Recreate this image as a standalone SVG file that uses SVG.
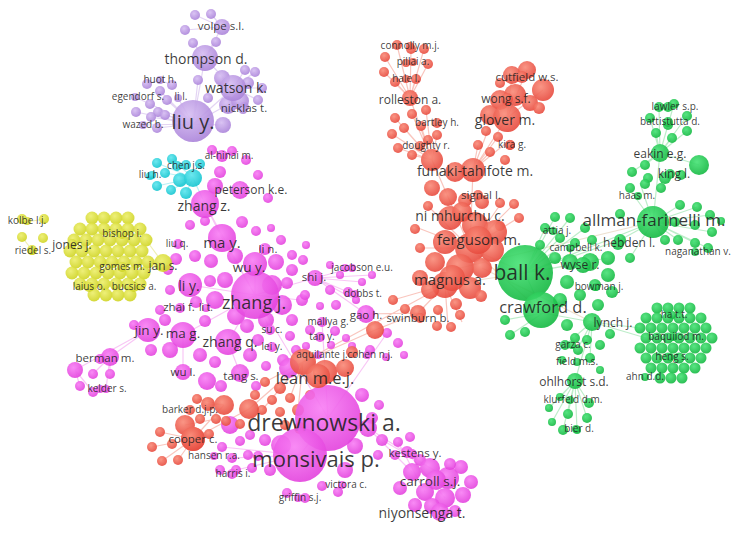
<svg xmlns="http://www.w3.org/2000/svg" width="738" height="537" viewBox="0 0 738 537">
<style>
text{font-family:"Open Sans","DejaVu Sans",sans-serif;fill:#1e1e1e;fill-opacity:.88;text-anchor:middle}
.f10{font-size:10px}.f11{font-size:11.5px}.f12{font-size:12px}.f13{font-size:13.5px}.f14{font-size:14px}.f15{font-size:15px}.f16{font-size:16.5px}.f17{font-size:17px}.f18{font-size:18px}.f20{font-size:20px}.f21{font-size:21px}.f22{font-size:22px}.f23{font-size:23px}
circle{fill-opacity:.9}
.p{fill:url(#gp)}.k{fill:url(#gk)}.r{fill:url(#gr)}.g{fill:url(#gg)}.y{fill:url(#gy)}.c{fill:url(#gc)}
.lp{stroke:#dcc9f0}.lk{stroke:#f6b8f3}.lr{stroke:#f7b6ad}.lg{stroke:#ade8bb}.ly{stroke:#eaeba0}.lc{stroke:#a6eef2}.lx{stroke:#e8d9c4}
#links path{fill:none;stroke-width:1.2;stroke-opacity:.8}
</style>
<defs>
<radialGradient id="gp" cx=".4" cy=".35" r=".7"><stop offset="0" stop-color="#d6bdf2"/><stop offset="1" stop-color="#a880d8"/></radialGradient>
<radialGradient id="gk" cx=".4" cy=".35" r=".7"><stop offset="0" stop-color="#f87ef4"/><stop offset="1" stop-color="#e23fdc"/></radialGradient>
<radialGradient id="gr" cx=".4" cy=".35" r=".7"><stop offset="0" stop-color="#f98a78"/><stop offset="1" stop-color="#e6463a"/></radialGradient>
<radialGradient id="gg" cx=".4" cy=".35" r=".7"><stop offset="0" stop-color="#46e275"/><stop offset="1" stop-color="#12b63f"/></radialGradient>
<radialGradient id="gy" cx=".4" cy=".35" r=".7"><stop offset="0" stop-color="#ecee6a"/><stop offset="1" stop-color="#cdd21e"/></radialGradient>
<radialGradient id="gc" cx=".4" cy=".35" r=".7"><stop offset="0" stop-color="#5ee6ee"/><stop offset="1" stop-color="#0fc2cd"/></radialGradient>
</defs>
<rect width="738" height="537" fill="#fff"/>

<g id="links">
<path class="lp" d="M193 124L160 91M193 124L150 104M193 124L167 100M193 124L158 112M193 124L136 112M193 124L151 117M193 124L165 115M193 124L157 128M193 124L178 98M193 124L143 125M193 124L198 80M193 124L205 58M193 124L233 88M193 124L223 125M193 124L227 105M205 58L193 43M205 58L216 42M205 58L222 27M205 58L233 88M222 27L195 15M222 27L211 14M222 27L185 30M233 88L245 70M233 88L255 72M233 88L262 88M233 88L258 100M233 88L244 107M233 88L222 78M160 80L147 84M160 80L172 85M135 97L150 104"/>
<path class="lc" d="M193 178L157 163M193 178L172 159M193 178L165 173M193 178L157 186M193 178L171 190M193 178L186 193M193 178L205 204"/>
<path class="ly" d="M163 263L146 240M163 263L148 262M163 263L144 273M27 222L44 219M22 237L32 250"/>
<path class="lk" d="M255 295L222 238M255 295L190 285M255 295L228 342M255 295L255 264M255 295L205 204M255 295L315 278M255 295L183 335M255 295L270 330M255 295L300 300M222 238L205 204M148 330L110 357M148 330L75 370M110 357L93 374M110 357L110 374M75 370L80 386M75 370L93 392M110 357L106 389M328 418L300 455M328 418L368 428M368 428L412 472M368 428L430 468M382 440L448 478M398 442L425 492M407 452L445 498M315 278L352 268M315 278L362 282M315 278L372 275M315 278L348 292M315 278L356 300M328 418L255 295M300 455L232 458M300 455L236 470M300 455L222 447M366 314L315 278M228 342L240 373M183 335L183 372M328 418L322 322M328 418L387 333"/>
<path class="lr" d="M410 98L385 57M410 98L397 45M410 98L411 49M410 98L424 49M410 98L428 64M410 98L384 72M410 98L395 82M410 98L416 79M432 160L410 98M432 160L395 118M432 160L412 114M432 160L426 110M432 160L421 126M432 160L404 128M432 160L437 135M432 160L392 134M432 160L398 148M432 160L412 155M473 170L507 118M473 170L488 130M473 170L498 137M473 170L492 150M473 170L478 145M473 170L510 140M507 118L512 75M507 118L527 70M507 118L543 90M432 160L470 248M473 170L470 248M470 248L413 226M470 248L418 248M470 248L428 206M470 248L500 205M470 248L513 205M470 248L518 218M445 285L393 300M445 285L418 313M445 285L448 326M445 285L462 322M418 313L375 330M418 313L366 314M303 362L375 330M303 362L265 382M303 362L290 398M303 362L262 410M303 362L298 410M303 362L249 409M193 439L224 405M193 439L249 409M193 439L160 432M193 439L152 447M193 439L162 461M193 439L178 460M224 405L197 399M224 405L208 404M185 425L216 419M303 362L445 285"/>
<path class="lx" d="M470 248L525 273M445 285L525 273M470 248L543 313M482 268L592 322M460 268L653 222"/>
<path class="lg" d="M525 273L545 228M525 273L555 217M525 273L570 218M525 273L585 228M525 273L540 245M525 273L560 238M525 273L590 262M525 273L608 258M525 273L653 222M525 273L543 313M543 313L592 322M592 322L575 381M592 322L565 345M592 322L578 348M592 322L590 358M592 322L640 328M592 322L646 338M575 381L560 397M575 381L589 403M575 381L549 408M575 381L568 414M575 381L587 418M575 381L552 422M575 381L563 430M575 381L577 430M653 222L680 205M653 222L697 207M653 222L710 215M653 222L675 222M653 222L695 225M653 222L712 232M653 222L678 240M653 222L695 243M653 222L708 248M653 222L665 240M653 222L630 190M653 222L640 183M653 222L620 240M653 222L630 258M660 153L653 222M660 153L699 165M660 153L659 107M660 153L674 104M660 153L687 116M660 153L650 118M660 153L668 125M660 153L656 133M660 153L672 138M660 153L687 131M660 153L645 165M660 153L632 172M543 313L505 320M543 313L510 335M525 273L620 240"/>
</g>

<g id="cluster-purple">
<circle class="p" cx="195" cy="15" r="5"/><circle class="p" cx="211" cy="14" r="5"/><circle class="p" cx="185" cy="30" r="5"/><circle class="p" cx="193" cy="43" r="5"/><circle class="p" cx="216" cy="42" r="5"/>
<circle class="p" cx="147" cy="84" r="5"/><circle class="p" cx="172" cy="85" r="5"/><circle class="p" cx="160" cy="91" r="5"/><circle class="p" cx="150" cy="104" r="5"/><circle class="p" cx="167" cy="100" r="5"/><circle class="p" cx="158" cy="112" r="5"/><circle class="p" cx="136" cy="112" r="5"/><circle class="p" cx="151" cy="117" r="5"/><circle class="p" cx="165" cy="115" r="5"/><circle class="p" cx="157" cy="128" r="5"/>
<circle class="p" cx="198" cy="80" r="5"/><circle class="p" cx="208" cy="98" r="5"/><circle class="p" cx="223" cy="125" r="8"/>
<circle class="p" cx="245" cy="70" r="5"/><circle class="p" cx="255" cy="72" r="5"/><circle class="p" cx="248" cy="83" r="6"/><circle class="p" cx="262" cy="88" r="5"/><circle class="p" cx="258" cy="100" r="5"/><circle class="p" cx="244" cy="107" r="5"/><circle class="p" cx="222" cy="78" r="8"/><circle class="p" cx="228" cy="105" r="9"/><circle class="p" cx="240" cy="101" r="9"/>
</g>

<g id="cluster-cyan">
<circle class="c" cx="157" cy="163" r="5"/><circle class="c" cx="172" cy="159" r="5"/><circle class="c" cx="186" cy="165" r="5"/><circle class="c" cx="165" cy="173" r="5"/><circle class="c" cx="150" cy="176" r="4"/><circle class="c" cx="180" cy="180" r="7"/><circle class="c" cx="193" cy="178" r="9"/><circle class="c" cx="157" cy="186" r="5"/><circle class="c" cx="171" cy="190" r="5"/><circle class="c" cx="186" cy="193" r="6"/><circle class="c" cx="200" cy="164" r="5"/>
</g>

<g id="cluster-yellow">
<circle class="y" cx="22" cy="219" r="5"/><circle class="y" cx="44" cy="219" r="5"/><circle class="y" cx="22" cy="237" r="5"/><circle class="y" cx="43" cy="238" r="5"/><circle class="y" cx="32" cy="250" r="5"/>
<circle class="y" cx="92" cy="218" r="6.5"/><circle class="y" cx="104" cy="218" r="6.5"/><circle class="y" cx="116" cy="218" r="6.5"/><circle class="y" cx="128" cy="218" r="6.5"/>
<circle class="y" cx="80" cy="229" r="6.5"/><circle class="y" cx="92" cy="229" r="6.5"/><circle class="y" cx="104" cy="229" r="6.5"/><circle class="y" cx="116" cy="229" r="6.5"/><circle class="y" cx="128" cy="229" r="6.5"/><circle class="y" cx="140" cy="229" r="6.5"/>
<circle class="y" cx="74" cy="240" r="6.5"/><circle class="y" cx="86" cy="240" r="6.5"/><circle class="y" cx="98" cy="240" r="6.5"/><circle class="y" cx="110" cy="240" r="6.5"/><circle class="y" cx="122" cy="240" r="6.5"/><circle class="y" cx="134" cy="240" r="6.5"/><circle class="y" cx="146" cy="240" r="6.5"/>
<circle class="y" cx="70" cy="251" r="6.5"/><circle class="y" cx="82" cy="251" r="6.5"/><circle class="y" cx="94" cy="251" r="6.5"/><circle class="y" cx="106" cy="251" r="6.5"/><circle class="y" cx="118" cy="251" r="6.5"/><circle class="y" cx="130" cy="251" r="6.5"/><circle class="y" cx="142" cy="251" r="6.5"/>
<circle class="y" cx="76" cy="262" r="6.5"/><circle class="y" cx="88" cy="262" r="6.5"/><circle class="y" cx="100" cy="262" r="6.5"/><circle class="y" cx="112" cy="262" r="6.5"/><circle class="y" cx="124" cy="262" r="6.5"/><circle class="y" cx="136" cy="262" r="6.5"/><circle class="y" cx="148" cy="262" r="6.5"/>
<circle class="y" cx="72" cy="273" r="6.5"/><circle class="y" cx="84" cy="273" r="6.5"/><circle class="y" cx="96" cy="273" r="6.5"/><circle class="y" cx="108" cy="273" r="6.5"/><circle class="y" cx="120" cy="273" r="6.5"/><circle class="y" cx="132" cy="273" r="6.5"/><circle class="y" cx="144" cy="273" r="6.5"/>
<circle class="y" cx="80" cy="284" r="6.5"/><circle class="y" cx="92" cy="284" r="6.5"/><circle class="y" cx="104" cy="284" r="6.5"/><circle class="y" cx="116" cy="284" r="6.5"/><circle class="y" cx="128" cy="284" r="6.5"/><circle class="y" cx="140" cy="284" r="6.5"/>
<circle class="y" cx="94" cy="295" r="6.5"/><circle class="y" cx="106" cy="295" r="6.5"/><circle class="y" cx="118" cy="295" r="6.5"/><circle class="y" cx="130" cy="295" r="6.5"/>
</g>

<g id="cluster-pink">
<circle class="k" cx="212" cy="150" r="5"/><circle class="k" cx="232" cy="151" r="5"/><circle class="k" cx="246" cy="160" r="5"/><circle class="k" cx="220" cy="172" r="6"/><circle class="k" cx="258" cy="175" r="5"/><circle class="k" cx="268" cy="198" r="5"/><circle class="k" cx="215" cy="186" r="8"/>
<circle class="k" cx="190" cy="225" r="5"/><circle class="k" cx="205" cy="221" r="5"/><circle class="k" cx="242" cy="222" r="6"/><circle class="k" cx="256" cy="231" r="5"/><circle class="k" cx="271" cy="228" r="4"/><circle class="k" cx="195" cy="256" r="6"/><circle class="k" cx="211" cy="261" r="7"/><circle class="k" cx="235" cy="256" r="8"/><circle class="k" cx="281" cy="240" r="5"/><circle class="k" cx="292" cy="255" r="5"/><circle class="k" cx="276" cy="262" r="8"/><circle class="k" cx="292" cy="270" r="6"/><circle class="k" cx="303" cy="260" r="5"/><circle class="k" cx="306" cy="245" r="4"/><circle class="k" cx="287" cy="283" r="6"/>
<circle class="k" cx="225" cy="280" r="8"/><circle class="k" cx="215" cy="300" r="9"/><circle class="k" cx="236" cy="316" r="9"/><circle class="k" cx="272" cy="285" r="10"/><circle class="k" cx="282" cy="305" r="10"/><circle class="k" cx="266" cy="320" r="8"/><circle class="k" cx="247" cy="326" r="7"/><circle class="k" cx="292" cy="320" r="6"/><circle class="k" cx="302" cy="300" r="6"/><circle class="k" cx="210" cy="281" r="6"/><circle class="k" cx="205" cy="321" r="6"/><circle class="k" cx="196" cy="302" r="6"/><circle class="k" cx="170" cy="290" r="5"/><circle class="k" cx="168" cy="270" r="5"/><circle class="k" cx="176" cy="259" r="6"/>
<circle class="k" cx="165" cy="320" r="6"/><circle class="k" cx="160" cy="310" r="5"/><circle class="k" cx="134" cy="325" r="5"/><circle class="k" cx="170" cy="350" r="8"/><circle class="k" cx="151" cy="350" r="6"/><circle class="k" cx="200" cy="355" r="7"/><circle class="k" cx="215" cy="362" r="6"/><circle class="k" cx="250" cy="355" r="7"/><circle class="k" cx="258" cy="340" r="6"/><circle class="k" cx="290" cy="336" r="5"/><circle class="k" cx="296" cy="350" r="5"/><circle class="k" cx="283" cy="360" r="6"/><circle class="k" cx="266" cy="366" r="5"/><circle class="k" cx="221" cy="386" r="6"/><circle class="k" cx="207" cy="381" r="9"/><circle class="k" cx="256" cy="386" r="5"/>
<circle class="k" cx="305" cy="295" r="5"/><circle class="k" cx="330" cy="290" r="5"/><circle class="k" cx="336" cy="305" r="5"/><circle class="k" cx="320" cy="306" r="4"/><circle class="k" cx="340" cy="275" r="4"/><circle class="k" cx="352" cy="268" r="4"/><circle class="k" cx="362" cy="282" r="4"/><circle class="k" cx="348" cy="292" r="5"/><circle class="k" cx="372" cy="275" r="4"/><circle class="k" cx="356" cy="300" r="4"/><circle class="k" cx="330" cy="265" r="4"/>
<circle class="k" cx="310" cy="330" r="5"/><circle class="k" cx="335" cy="331" r="5"/><circle class="k" cx="331" cy="345" r="4"/><circle class="k" cx="346" cy="338" r="4"/><circle class="k" cx="306" cy="346" r="4"/>
<circle class="k" cx="387" cy="333" r="5"/><circle class="k" cx="398" cy="343" r="5"/><circle class="k" cx="352" cy="346" r="4"/><circle class="k" cx="370" cy="350" r="5"/><circle class="k" cx="386" cy="357" r="4"/><circle class="k" cx="404" cy="355" r="4"/>
<circle class="k" cx="289" cy="368" r="10"/><circle class="k" cx="362" cy="395" r="7"/><circle class="k" cx="372" cy="418" r="6"/><circle class="k" cx="379" cy="405" r="5"/><circle class="k" cx="355" cy="446" r="8"/><circle class="k" cx="345" cy="470" r="8"/><circle class="k" cx="322" cy="486" r="5"/><circle class="k" cx="338" cy="492" r="5"/><circle class="k" cx="287" cy="493" r="5"/><circle class="k" cx="305" cy="498" r="5"/><circle class="k" cx="270" cy="470" r="6"/><circle class="k" cx="281" cy="445" r="10"/><circle class="k" cx="265" cy="440" r="6"/><circle class="k" cx="258" cy="456" r="5"/>
<circle class="k" cx="368" cy="428" r="9"/><circle class="k" cx="382" cy="440" r="6"/><circle class="k" cx="398" cy="442" r="5"/><circle class="k" cx="410" cy="437" r="5"/><circle class="k" cx="395" cy="455" r="5"/><circle class="k" cx="407" cy="452" r="6"/><circle class="k" cx="420" cy="460" r="6"/><circle class="k" cx="378" cy="455" r="5"/>
<circle class="k" cx="412" cy="472" r="9"/><circle class="k" cx="430" cy="468" r="10"/><circle class="k" cx="448" cy="478" r="11"/><circle class="k" cx="461" cy="467" r="7"/><circle class="k" cx="400" cy="488" r="7"/><circle class="k" cx="425" cy="492" r="9"/><circle class="k" cx="445" cy="498" r="10"/><circle class="k" cx="463" cy="495" r="8"/><circle class="k" cx="415" cy="505" r="7"/><circle class="k" cx="432" cy="506" r="8"/><circle class="k" cx="455" cy="511" r="6"/><circle class="k" cx="471" cy="482" r="7"/><circle class="k" cx="450" cy="464" r="6"/>
<circle class="k" cx="222" cy="447" r="5"/><circle class="k" cx="240" cy="441" r="5"/><circle class="k" cx="232" cy="458" r="5"/><circle class="k" cx="248" cy="455" r="5"/><circle class="k" cx="220" cy="470" r="5"/><circle class="k" cx="236" cy="470" r="5"/><circle class="k" cx="252" cy="468" r="5"/><circle class="k" cx="230" cy="425" r="9"/><circle class="k" cx="250" cy="435" r="5"/>
<circle class="k" cx="75" cy="370" r="8"/><circle class="k" cx="110" cy="357" r="9"/><circle class="k" cx="93" cy="374" r="5"/><circle class="k" cx="110" cy="374" r="5"/><circle class="k" cx="80" cy="386" r="5"/><circle class="k" cx="93" cy="392" r="5"/><circle class="k" cx="106" cy="389" r="4"/>
</g>

<g id="cluster-red">
<circle class="r" cx="385" cy="57" r="5"/><circle class="r" cx="397" cy="45" r="5"/><circle class="r" cx="411" cy="49" r="5"/><circle class="r" cx="424" cy="49" r="5"/><circle class="r" cx="428" cy="64" r="5"/><circle class="r" cx="384" cy="72" r="5"/><circle class="r" cx="395" cy="82" r="5"/><circle class="r" cx="416" cy="79" r="5"/><circle class="r" cx="406" cy="63" r="4"/>
<circle class="r" cx="395" cy="118" r="5"/><circle class="r" cx="412" cy="114" r="5"/><circle class="r" cx="426" cy="110" r="5"/><circle class="r" cx="421" cy="126" r="5"/><circle class="r" cx="404" cy="128" r="5"/><circle class="r" cx="437" cy="135" r="5"/><circle class="r" cx="392" cy="134" r="5"/><circle class="r" cx="398" cy="148" r="5"/><circle class="r" cx="412" cy="155" r="5"/><circle class="r" cx="428" cy="140" r="5"/>
<circle class="r" cx="500" cy="83" r="5"/><circle class="r" cx="512" cy="75" r="9"/><circle class="r" cx="527" cy="70" r="9"/><circle class="r" cx="543" cy="90" r="11"/><circle class="r" cx="515" cy="95" r="11"/><circle class="r" cx="500" cy="100" r="10"/><circle class="r" cx="530" cy="103" r="8"/><circle class="r" cx="539" cy="108" r="6"/><circle class="r" cx="490" cy="115" r="10"/>
<circle class="r" cx="486" cy="131" r="5"/><circle class="r" cx="498" cy="137" r="5"/><circle class="r" cx="490" cy="152" r="5"/><circle class="r" cx="478" cy="145" r="5"/><circle class="r" cx="510" cy="145" r="5"/><circle class="r" cx="505" cy="160" r="5"/>
<circle class="r" cx="432" cy="160" r="11"/><circle class="r" cx="473" cy="170" r="12"/><circle class="r" cx="432" cy="188" r="8"/><circle class="r" cx="448" cy="197" r="9"/><circle class="r" cx="465" cy="200" r="7"/><circle class="r" cx="482" cy="202" r="7"/><circle class="r" cx="500" cy="203" r="5"/><circle class="r" cx="514" cy="204" r="5"/><circle class="r" cx="519" cy="218" r="5"/><circle class="r" cx="500" cy="226" r="5"/>
<circle class="r" cx="450" cy="218" r="12"/><circle class="r" cx="475" cy="225" r="13"/><circle class="r" cx="495" cy="232" r="12"/><circle class="r" cx="445" cy="242" r="12"/><circle class="r" cx="470" cy="248" r="15"/><circle class="r" cx="492" cy="250" r="12"/><circle class="r" cx="435" cy="262" r="10"/><circle class="r" cx="460" cy="268" r="14"/><circle class="r" cx="482" cy="268" r="10"/><circle class="r" cx="445" cy="285" r="13"/><circle class="r" cx="470" cy="288" r="11"/><circle class="r" cx="430" cy="290" r="9"/><circle class="r" cx="420" cy="278" r="8"/><circle class="r" cx="456" cy="304" r="6"/><circle class="r" cx="481" cy="296" r="6"/>
<circle class="r" cx="415" cy="229" r="5"/><circle class="r" cx="420" cy="248" r="5"/><circle class="r" cx="428" cy="206" r="5"/>
<circle class="r" cx="393" cy="300" r="5"/><circle class="r" cx="405" cy="309" r="5"/><circle class="r" cx="418" cy="313" r="8"/><circle class="r" cx="438" cy="310" r="5"/><circle class="r" cx="437" cy="326" r="5"/><circle class="r" cx="451" cy="327" r="5"/><circle class="r" cx="460" cy="315" r="5"/><circle class="r" cx="375" cy="330" r="9"/>
<circle class="r" cx="303" cy="362" r="13"/><circle class="r" cx="325" cy="372" r="12"/><circle class="r" cx="345" cy="368" r="9"/><circle class="r" cx="352" cy="352" r="6"/>
<circle class="r" cx="265" cy="382" r="5"/><circle class="r" cx="280" cy="388" r="6"/><circle class="r" cx="272" cy="400" r="5"/><circle class="r" cx="290" cy="398" r="5"/><circle class="r" cx="262" cy="410" r="5"/><circle class="r" cx="280" cy="412" r="5"/><circle class="r" cx="298" cy="410" r="6"/><circle class="r" cx="285" cy="425" r="5"/><circle class="r" cx="300" cy="428" r="6"/><circle class="r" cx="255" cy="395" r="5"/><circle class="r" cx="310" cy="395" r="5"/>
<circle class="r" cx="197" cy="399" r="5"/><circle class="r" cx="208" cy="404" r="7"/><circle class="r" cx="224" cy="405" r="10"/><circle class="r" cx="249" cy="409" r="10"/><circle class="r" cx="185" cy="425" r="10"/><circle class="r" cx="200" cy="419" r="5"/><circle class="r" cx="216" cy="419" r="5"/><circle class="r" cx="193" cy="439" r="12"/><circle class="r" cx="209" cy="434" r="5"/><circle class="r" cx="160" cy="432" r="5"/><circle class="r" cx="172" cy="444" r="5"/><circle class="r" cx="152" cy="447" r="5"/><circle class="r" cx="162" cy="461" r="5"/><circle class="r" cx="178" cy="460" r="5"/><circle class="r" cx="226" cy="421" r="5"/><circle class="r" cx="240" cy="424" r="5"/>
</g>

<g id="cluster-green">
<circle class="g" cx="659" cy="107" r="5"/><circle class="g" cx="674" cy="104" r="5"/><circle class="g" cx="687" cy="116" r="5"/><circle class="g" cx="650" cy="118" r="5"/><circle class="g" cx="668" cy="125" r="5"/><circle class="g" cx="656" cy="133" r="5"/><circle class="g" cx="672" cy="138" r="5"/><circle class="g" cx="687" cy="131" r="5"/>
<circle class="g" cx="699" cy="165" r="10"/><circle class="g" cx="645" cy="165" r="5"/><circle class="g" cx="632" cy="172" r="5"/><circle class="g" cx="648" cy="178" r="5"/><circle class="g" cx="665" cy="178" r="6"/><circle class="g" cx="681" cy="175" r="5"/>
<circle class="g" cx="630" cy="188" r="5"/><circle class="g" cx="645" cy="184" r="5"/><circle class="g" cx="661" cy="188" r="5"/><circle class="g" cx="620" cy="214" r="5"/><circle class="g" cx="680" cy="205" r="5"/><circle class="g" cx="697" cy="207" r="5"/><circle class="g" cx="710" cy="215" r="5"/><circle class="g" cx="675" cy="222" r="5"/><circle class="g" cx="695" cy="225" r="5"/><circle class="g" cx="712" cy="232" r="5"/><circle class="g" cx="678" cy="240" r="5"/><circle class="g" cx="695" cy="243" r="5"/><circle class="g" cx="708" cy="248" r="5"/><circle class="g" cx="665" cy="240" r="5"/><circle class="g" cx="721" cy="221" r="4"/>
<circle class="g" cx="620" cy="240" r="6"/><circle class="g" cx="630" cy="258" r="5"/>
<circle class="g" cx="545" cy="228" r="5"/><circle class="g" cx="555" cy="217" r="5"/><circle class="g" cx="570" cy="218" r="5"/><circle class="g" cx="585" cy="228" r="5"/><circle class="g" cx="592" cy="240" r="5"/><circle class="g" cx="540" cy="245" r="5"/><circle class="g" cx="560" cy="238" r="5"/><circle class="g" cx="575" cy="243" r="5"/>
<circle class="g" cx="555" cy="258" r="6"/><circle class="g" cx="570" cy="262" r="8"/><circle class="g" cx="590" cy="262" r="9"/><circle class="g" cx="608" cy="258" r="7"/><circle class="g" cx="608" cy="275" r="7"/><circle class="g" cx="595" cy="285" r="6"/><circle class="g" cx="612" cy="292" r="6"/><circle class="g" cx="567" cy="282" r="7"/><circle class="g" cx="580" cy="295" r="6"/><circle class="g" cx="560" cy="300" r="7"/><circle class="g" cx="598" cy="305" r="6"/>
<circle class="g" cx="505" cy="320" r="5"/><circle class="g" cx="510" cy="335" r="5"/><circle class="g" cx="525" cy="332" r="5"/><circle class="g" cx="567" cy="325" r="6"/><circle class="g" cx="575" cy="338" r="5"/><circle class="g" cx="600" cy="345" r="5"/><circle class="g" cx="587" cy="340" r="5"/><circle class="g" cx="610" cy="334" r="5"/>
<circle class="g" cx="565" cy="345" r="5"/><circle class="g" cx="578" cy="350" r="5"/><circle class="g" cx="562" cy="360" r="4"/><circle class="g" cx="590" cy="358" r="5"/><circle class="g" cx="600" cy="370" r="4"/>
<circle class="g" cx="560" cy="397" r="4"/><circle class="g" cx="589" cy="403" r="5"/><circle class="g" cx="549" cy="408" r="4"/><circle class="g" cx="568" cy="414" r="5"/><circle class="g" cx="587" cy="418" r="5"/><circle class="g" cx="552" cy="422" r="4"/><circle class="g" cx="563" cy="430" r="5"/><circle class="g" cx="577" cy="430" r="4"/>
<circle class="g" cx="657" cy="308" r="5.5"/><circle class="g" cx="668" cy="308" r="5.5"/><circle class="g" cx="679" cy="308" r="5.5"/><circle class="g" cx="690" cy="308" r="5.5"/>
<circle class="g" cx="646" cy="318" r="5.5"/><circle class="g" cx="657" cy="318" r="5.5"/><circle class="g" cx="668" cy="318" r="5.5"/><circle class="g" cx="679" cy="318" r="5.5"/><circle class="g" cx="690" cy="318" r="5.5"/><circle class="g" cx="701" cy="318" r="5.5"/>
<circle class="g" cx="640" cy="328" r="5.5"/><circle class="g" cx="651" cy="328" r="5.5"/><circle class="g" cx="662" cy="328" r="5.5"/><circle class="g" cx="673" cy="328" r="5.5"/><circle class="g" cx="684" cy="328" r="5.5"/><circle class="g" cx="695" cy="328" r="5.5"/><circle class="g" cx="706" cy="328" r="5.5"/>
<circle class="g" cx="646" cy="338" r="5.5"/><circle class="g" cx="657" cy="338" r="5.5"/><circle class="g" cx="668" cy="338" r="5.5"/><circle class="g" cx="679" cy="338" r="5.5"/><circle class="g" cx="690" cy="338" r="5.5"/><circle class="g" cx="701" cy="338" r="5.5"/><circle class="g" cx="712" cy="338" r="5.5"/>
<circle class="g" cx="640" cy="348" r="5.5"/><circle class="g" cx="651" cy="348" r="5.5"/><circle class="g" cx="662" cy="348" r="5.5"/><circle class="g" cx="673" cy="348" r="5.5"/><circle class="g" cx="684" cy="348" r="5.5"/><circle class="g" cx="695" cy="348" r="5.5"/><circle class="g" cx="706" cy="348" r="5.5"/>
<circle class="g" cx="646" cy="358" r="5.5"/><circle class="g" cx="657" cy="358" r="5.5"/><circle class="g" cx="668" cy="358" r="5.5"/><circle class="g" cx="679" cy="358" r="5.5"/><circle class="g" cx="690" cy="358" r="5.5"/><circle class="g" cx="701" cy="358" r="5.5"/>
<circle class="g" cx="651" cy="368" r="5.5"/><circle class="g" cx="662" cy="368" r="5.5"/><circle class="g" cx="673" cy="368" r="5.5"/><circle class="g" cx="684" cy="368" r="5.5"/><circle class="g" cx="695" cy="368" r="5.5"/>
<circle class="g" cx="660" cy="378" r="5.5"/><circle class="g" cx="671" cy="378" r="5.5"/><circle class="g" cx="682" cy="378" r="5.5"/>
</g>

<g id="n-drewnowski"><circle class="k" cx="328" cy="418" r="33"/><text class="f23" x="324" y="431">drewnowski a.</text></g>
<g id="n-ball"><circle class="g" cx="525" cy="273" r="28"/><text class="f21" x="522" y="280">ball k.</text></g>
<g id="n-monsivais"><circle class="k" cx="300" cy="455" r="27"/><text class="f22" x="316" y="467">monsivais p.</text></g>
<g id="n-zhang-j"><circle class="k" cx="255" cy="295" r="24"/><text class="f18" x="254" y="309">zhang j.</text></g>
<g id="n-liu-y"><circle class="p" cx="193" cy="121" r="21"/><text class="f20" x="193" y="129">liu y.</text></g>
<g id="n-crawford"><circle class="g" cx="541" cy="310" r="18"/><text class="f16" x="543" y="313">crawford d.</text></g>
<g id="n-allman"><circle class="g" cx="653" cy="222" r="16"/><text class="f17" x="654" y="226">allman-farinelli m.</text></g>
<g id="n-ferguson"><circle class="r" cx="478" cy="240" r="14"/><text class="f15" x="479" y="245">ferguson m.</text></g>
<g id="n-magnus"><circle class="r" cx="452" cy="278" r="13"/><text class="f15" x="450" y="285">magnus a.</text></g>
<g id="n-ma-y"><circle class="k" cx="222" cy="238" r="14"/><text class="f15" x="222" y="248">ma y.</text></g>
<g id="n-zhang-z"><circle class="k" cx="205" cy="204" r="14"/><text class="f14" x="204" y="211">zhang z.</text></g>
<g id="n-glover"><circle class="r" cx="507" cy="118" r="14"/><text class="f14" x="505" y="125">glover m.</text></g>
<g id="n-zhang-q"><circle class="k" cx="228" cy="342" r="13"/><text class="f14" x="230" y="347">zhang q.</text></g>
<g id="n-ma-g"><circle class="k" cx="183" cy="335" r="13"/><text class="f13" x="183" y="338">ma g.</text></g>
<g id="n-thompson"><circle class="p" cx="205" cy="58" r="13"/><text class="f14" x="206" y="64">thompson d.</text></g>
<g id="n-watson"><circle class="p" cx="233" cy="88" r="13"/><text class="f14" x="236" y="93">watson k.</text></g>
<g id="n-lean"><circle class="r" cx="318" cy="376" r="12"/><text class="f16" x="315" y="384">lean m.e.j.</text></g>
<g id="n-funaki"><circle class="r" cx="455" cy="172" r="10"/><text class="f14" x="475" y="176">funaki-tahifote m.</text></g>
<g id="n-ni-mhurchu"><circle class="r" cx="462" cy="212" r="10"/><text class="f14" x="460" y="221">ni mhurchu c.</text></g>
<g id="n-wu-y"><circle class="k" cx="255" cy="264" r="12"/><text class="f13" x="249" y="272">wu y.</text></g>
<g id="n-li-y"><circle class="k" cx="190" cy="285" r="12"/><text class="f14" x="189" y="291">li y.</text></g>
<g id="n-jin-y"><circle class="k" cx="148" cy="330" r="12"/><text class="f13" x="149" y="335">jin y.</text></g>
<g id="n-carroll"><circle class="k" cx="436" cy="480" r="10"/><text class="f13" x="430" y="486">carroll s.j.</text></g>
<g id="n-niyonsenga"><circle class="k" cx="440" cy="512" r="9"/><text class="f14" x="422" y="518">niyonsenga t.</text></g>
<g id="n-cooper"><circle class="r" cx="193" cy="439" r="12"/><text class="f11" x="193" y="443">cooper c.</text></g>
<g id="n-peterson"><circle class="k" cx="240" cy="190" r="9"/><text class="f12" x="251" y="194">peterson k.e.</text></g>
<g id="n-lynch"><circle class="g" cx="592" cy="322" r="9"/><text class="f12" x="613" y="327">lynch j.</text></g>
<g id="n-eakin"><circle class="g" cx="660" cy="153" r="9"/><text class="f12" x="660" y="158">eakin e.g.</text></g>
<g id="n-jan-s"><circle class="y" cx="163" cy="263" r="9"/><text class="f12" x="163" y="270">jan s.</text></g>
<g id="n-gao"><circle class="k" cx="366" cy="314" r="9"/><text class="f11" x="366" y="319">gao h.</text></g>
<g id="n-tang-s"><circle class="k" cx="240" cy="373" r="9"/><text class="f11" x="241" y="380">tang s.</text></g>
<g id="n-wu-l"><circle class="k" cx="183" cy="372" r="8"/><text class="f11" x="183" y="376">wu l.</text></g>
<g id="n-rolleston"><circle class="r" cx="410" cy="98" r="8"/><text class="f12" x="410" y="104">rolleston a.</text></g>
<g id="n-volpe"><circle class="p" cx="222" cy="27" r="8"/><text class="f11" x="221" y="30">volpe s.l.</text></g>
<g id="n-ohlhorst"><circle class="g" cx="575" cy="381" r="8"/><text class="f12" x="574" y="386">ohlhorst s.d.</text></g>
<g id="n-shi-j"><circle class="k" cx="315" cy="278" r="8"/><text class="f11" x="314" y="281">shi j.</text></g>
<g id="n-wyse"><circle class="g" cx="583" cy="265" r="8"/><text class="f12" x="580" y="269">wyse r.</text></g>
<g id="n-hebden"><circle class="g" cx="618" cy="244" r="6"/><text class="f12" x="629" y="247">hebden l.</text></g>
<g id="n-king"><circle class="g" cx="670" cy="174" r="5"/><text class="f12" x="674" y="178">king l.</text></g>
<g id="n-jones"><circle class="y" cx="72" cy="244" r="5"/><text class="f12" x="72" y="249">jones j.</text></g>
<g id="n-cutfield"><circle class="r" cx="522" cy="77" r="6"/><text class="f11" x="527" y="81">cutfield w.s.</text></g>
<g id="n-wong"><circle class="r" cx="507" cy="99" r="6"/><text class="f12" x="506" y="103">wong s.f.</text></g>
<g id="n-signal"><circle class="r" cx="478" cy="195" r="5"/><text class="f11" x="481" y="199">signal l.</text></g>
<g id="n-swinburn"><circle class="r" cx="420" cy="318" r="5"/><text class="f11" x="418" y="322">swinburn b.</text></g>
<g id="n-berman"><circle class="k" cx="100" cy="359" r="5"/><text class="f11" x="105" y="362">berman m.</text></g>
<g id="n-kestens"><circle class="k" cx="412" cy="454" r="5"/><text class="f11" x="415" y="457">kestens y.</text></g>
<g id="n-zhai"><circle class="k" cx="180" cy="308" r="5"/><text class="f11" x="179" y="311">zhai f.</text></g>
<g id="n-li-n"><circle class="k" cx="265" cy="249" r="6"/><text class="f11" x="268" y="253">li n.</text></g>
<g id="n-al-hinai"><circle class="k" cx="222" cy="156" r="6"/><text class="f10" x="229" y="159">al-hinai m.</text></g>
<g id="n-huot"><circle class="p" cx="160" cy="80" r="4"/><text class="f10" x="160" y="83">huot h.</text></g>
<g id="n-egendorf"><circle class="p" cx="135" cy="97" r="4"/><text class="f10" x="138" y="100">egendorf s.</text></g>
<g id="n-li-l"><circle class="p" cx="178" cy="98" r="4"/><text class="f10" x="181" y="100">li l.</text></g>
<g id="n-nicklas"><circle class="p" cx="243" cy="110" r="4"/><text class="f11" x="244" y="112">nicklas t.</text></g>
<g id="n-wazed"><circle class="p" cx="143" cy="125" r="4"/><text class="f10" x="143" y="128">wazed b.</text></g>
<g id="n-chen"><circle class="c" cx="177" cy="166" r="5"/><text class="f10" x="186" y="169">chen j.s.</text></g>
<g id="n-liu-h"><circle class="c" cx="152" cy="175" r="4"/><text class="f10" x="150" y="178">liu h.</text></g>
<g id="n-kolbe"><circle class="y" cx="27" cy="221" r="4"/><text class="f10" x="27" y="224">kolbe l.j.</text></g>
<g id="n-riedel"><circle class="y" cx="32" cy="251" r="4"/><text class="f10" x="33" y="254">riedel s.</text></g>
<g id="n-bishop"><circle class="y" cx="122" cy="234" r="5"/><text class="f10" x="122" y="237">bishop i.</text></g>
<g id="n-gomes"><circle class="y" cx="122" cy="267" r="5"/><text class="f10" x="122" y="270">gomes m.</text></g>
<g id="n-laius"><circle class="y" cx="89" cy="287" r="5"/><text class="f10" x="89" y="290">laius o.</text></g>
<g id="n-bucsics"><circle class="y" cx="134" cy="287" r="5"/><text class="f10" x="134" y="290">bucsics a.</text></g>
<g id="n-liu-q"><circle class="k" cx="178" cy="244" r="5"/><text class="f10" x="177" y="247">liu q.</text></g>
<g id="n-li-t"><circle class="k" cx="206" cy="308" r="4"/><text class="f10" x="206" y="311">li t.</text></g>
<g id="n-su-c"><circle class="k" cx="270" cy="330" r="5"/><text class="f10" x="272" y="333">su c.</text></g>
<g id="n-lei-y"><circle class="k" cx="272" cy="347" r="5"/><text class="f10" x="272" y="350">lei y.</text></g>
<g id="n-mallya"><circle class="k" cx="322" cy="322" r="5"/><text class="f10" x="328" y="325">mallya g.</text></g>
<g id="n-tan-y"><circle class="k" cx="320" cy="337" r="5"/><text class="f10" x="322" y="340">tan y.</text></g>
<g id="n-jacobson"><circle class="k" cx="345" cy="268" r="4"/><text class="f10" x="362" y="271">jacobson e.u.</text></g>
<g id="n-dobbs"><circle class="k" cx="355" cy="294" r="4"/><text class="f10" x="363" y="297">dobbs t.</text></g>
<g id="n-aquilante"><circle class="k" cx="318" cy="355" r="4"/><text class="f10" x="322" y="358">aquilante j.</text></g>
<g id="n-cohen"><circle class="k" cx="367" cy="355" r="4"/><text class="f10" x="370" y="358">cohen n.j.</text></g>
<g id="n-kelder"><circle class="k" cx="100" cy="389" r="4"/><text class="f10" x="107" y="392">kelder s.</text></g>
<g id="n-barker"><circle class="r" cx="190" cy="410" r="5"/><text class="f10" x="190" y="413">barker d.j.p.</text></g>
<g id="n-hansen"><circle class="k" cx="214" cy="456" r="4"/><text class="f10" x="214" y="459">hansen r.a.</text></g>
<g id="n-harris"><circle class="k" cx="232" cy="474" r="5"/><text class="f10" x="233" y="477">harris i.</text></g>
<g id="n-victora"><circle class="k" cx="342" cy="485" r="4"/><text class="f10" x="346" y="488">victora c.</text></g>
<g id="n-griffin"><circle class="k" cx="298" cy="498" r="4"/><text class="f10" x="300" y="501">griffin s.j.</text></g>
<g id="n-connolly"><circle class="r" cx="410" cy="46" r="4"/><text class="f10" x="410" y="49">connolly m.j.</text></g>
<g id="n-pillai"><circle class="r" cx="413" cy="62" r="4"/><text class="f10" x="413" y="65">pillai a.</text></g>
<g id="n-hale"><circle class="r" cx="406" cy="79" r="4"/><text class="f10" x="406" y="82">hale l.</text></g>
<g id="n-bartley"><circle class="r" cx="437" cy="123" r="5"/><text class="f10" x="437" y="126">bartley h.</text></g>
<g id="n-doughty"><circle class="r" cx="420" cy="146" r="5"/><text class="f10" x="426" y="149">doughty r.</text></g>
<g id="n-kira"><circle class="r" cx="510" cy="145" r="5"/><text class="f10" x="512" y="148">kira g.</text></g>
<g id="n-lawler"><circle class="g" cx="668" cy="107" r="5"/><text class="f10" x="675" y="110">lawler s.p.</text></g>
<g id="n-battistutta"><circle class="g" cx="668" cy="122" r="5"/><text class="f10" x="670" y="125">battistutta d.</text></g>
<g id="n-haas"><circle class="g" cx="638" cy="196" r="4"/><text class="f10" x="637" y="199">haas m.</text></g>
<g id="n-attia"><circle class="g" cx="553" cy="231" r="4"/><text class="f10" x="557" y="234">attia j.</text></g>
<g id="n-campbell"><circle class="g" cx="570" cy="248" r="4"/><text class="f10" x="576" y="251">campbell k.</text></g>
<g id="n-naganathan"><circle class="g" cx="695" cy="252" r="4"/><text class="f10" x="698" y="255">naganathan v.</text></g>
<g id="n-bowman"><circle class="g" cx="596" cy="287" r="4"/><text class="f10" x="599" y="290">bowman j.</text></g>
<g id="n-ha"><circle class="g" cx="672" cy="315" r="4"/><text class="f10" x="674" y="318">ha t.t.</text></g>
<g id="n-baquilod"><circle class="g" cx="673" cy="337" r="4"/><text class="f10" x="676" y="340">baquilod m.</text></g>
<g id="n-garza"><circle class="g" cx="572" cy="345" r="4"/><text class="f10" x="573" y="348">garza c.</text></g>
<g id="n-heng"><circle class="g" cx="670" cy="357" r="4"/><text class="f10" x="672" y="360">heng s.</text></g>
<g id="n-field"><circle class="g" cx="577" cy="362" r="4"/><text class="f10" x="577" y="365">field m.s.</text></g>
<g id="n-ahn"><circle class="g" cx="645" cy="377" r="4"/><text class="f10" x="645" y="380">ahn d.d.</text></g>
<g id="n-klurfeld"><circle class="g" cx="570" cy="400" r="4"/><text class="f10" x="573" y="403">klurfeld d.m.</text></g>
<g id="n-bier"><circle class="g" cx="576" cy="429" r="4"/><text class="f10" x="579" y="432">bier d.</text></g>
</svg>
